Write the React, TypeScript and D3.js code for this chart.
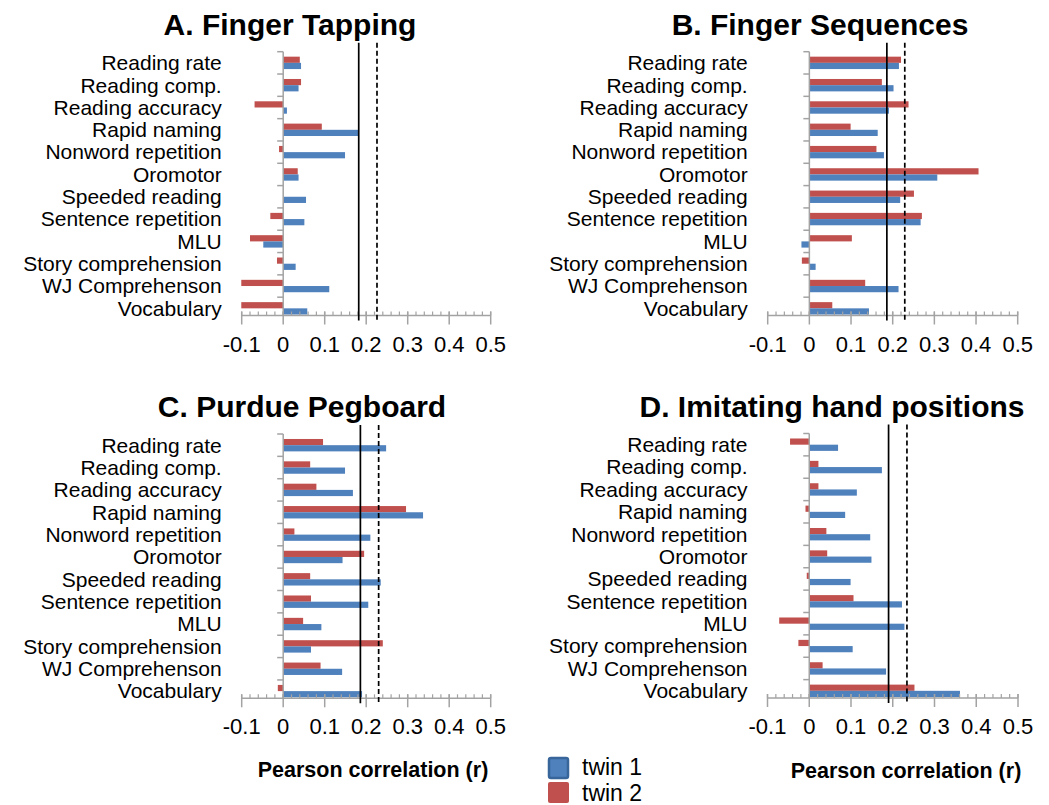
import { range, scaleBand, scaleLinear } from "d3"

const categories = [
    "Reading rate",
    "Reading comp.",
    "Reading accuracy",
    "Rapid naming",
    "Nonword repetition",
    "Oromotor",
    "Speeded reading",
    "Sentence repetition",
    "MLU",
    "Story comprehension",
    "WJ Comprehenson",
    "Vocabulary",
]

const tickValues = [-0.1, 0, 0.1, 0.2, 0.3, 0.4, 0.5]
const tickLabels = ["-0.1", "0", "0.1", "0.2", "0.3", "0.4", "0.5"]

const titles = ["A. Finger Tapping", "B. Finger Sequences", "C. Purdue Pegboard", "D. Imitating hand positions"]

// correlations, one value per category
const tappingTwin1 = [0.043, 0.037, 0.009, 0.182, 0.149, 0.037, 0.055, 0.051, -0.048, 0.030, 0.111, 0.058]
const tappingTwin2 = [0.040, 0.043, -0.069, 0.093, -0.010, 0.035, 0, -0.031, -0.080, -0.015, -0.101, -0.101]

const sequencesTwin1 = [0.215, 0.202, 0.191, 0.164, 0.179, 0.307, 0.218, 0.267, -0.019, 0.015, 0.214, 0.143]
const sequencesTwin2 = [0.220, 0.174, 0.238, 0.099, 0.161, 0.406, 0.251, 0.270, 0.102, -0.018, 0.134, 0.055]

const pegboardTwin1 = [0.248, 0.149, 0.168, 0.337, 0.210, 0.143, 0.235, 0.205, 0.092, 0.067, 0.142, 0.190]
const pegboardTwin2 = [0.096, 0.065, 0.080, 0.296, 0.027, 0.195, 0.065, 0.067, 0.048, 0.240, 0.090, -0.013]

const handsTwin1 = [0.069, 0.174, 0.114, 0.086, 0.146, 0.149, 0.099, 0.222, 0.228, 0.104, 0.184, 0.361]
const handsTwin2 = [-0.046, 0.022, 0.022, -0.009, 0.041, 0.043, -0.006, 0.106, -0.072, -0.026, 0.032, 0.252]

// significance thresholds (solid / dashed)
const solidLines = [0.182, 0.186, 0.186, 0.19]
const dashedLines = [0.226, 0.229, 0.23, 0.234]

const legendLabels = ["twin 1", "twin 2"]

const BLUE = "#4f81bd"
const RED = "#c0504d"
const AXIS = "#a3a3a3"
const FONT = "'Liberation Sans', Arial, sans-serif"

const layout = [
    { x0: 241.7, x1: 490.7, top: 51.7, axisY: 315.5, titleX: 290, titleY: 35 },
    { x0: 767.7, x1: 1017.7, top: 51.7, axisY: 315.5, titleX: 820, titleY: 35 },
    { x0: 241.7, x1: 490.7, top: 434, axisY: 698.3, titleX: 302, titleY: 417 },
    { x0: 767.5, x1: 1018, top: 433.5, axisY: 698, titleX: 832, titleY: 417 },
]

const panelData = [
    [tappingTwin1, tappingTwin2],
    [sequencesTwin1, sequencesTwin2],
    [pegboardTwin1, pegboardTwin2],
    [handsTwin1, handsTwin2],
]

const Panel = ({ idx }) => {
    const l = layout[idx]
    const [twin1, twin2] = panelData[idx]

    const x = scaleLinear().domain([-0.1, 0.5]).range([l.x0, l.x1])
    const y = scaleBand().domain(categories).range([l.top, l.axisY + 4])
    const barH = 6.2
    const minor = range(0, 31).map(i => -0.1 + i * 0.02)

    const bar = (v, c, yy, color) => (
        <rect key={c + color} x={Math.min(x(0), x(v))} y={yy}
            width={Math.abs(x(v) - x(0))} height={barH} fill={color} />
    )

    return (
        <g>
            <text x={l.titleX} y={l.titleY} textAnchor="middle" fontSize={30} fontWeight="bold">{titles[idx]}</text>

            {categories.map(c => (
                <text key={c} x={l.x0 - 20} y={y(c) + y.bandwidth() / 2} dy="0.35em"
                    textAnchor="end" fontSize={21}>{c}</text>
            ))}

            {categories.map((c, i) => {
                const mid = y(c) + y.bandwidth() / 2
                return (
                    <g key={c}>
                        {twin2[i] !== 0 && bar(twin2[i], c, mid - barH, RED)}
                        {bar(twin1[i], c, mid, BLUE)}
                    </g>
                )
            })}

            {/* category axis */}
            <line x1={x(0)} x2={x(0)} y1={l.top} y2={l.axisY} stroke={AXIS} strokeWidth={1.5} />
            {categories.map(c => (
                <line key={c} x1={x(0) - 6} x2={x(0)} y1={y(c)} y2={y(c)} stroke={AXIS} strokeWidth={1.5} />
            ))}

            {/* value axis */}
            <line x1={l.x0} x2={l.x1} y1={l.axisY} y2={l.axisY} stroke={AXIS} strokeWidth={1.5} />
            {minor.map((v, i) => (
                <line key={i} x1={x(v)} x2={x(v)} y1={l.axisY - 4} y2={l.axisY} stroke={AXIS} strokeWidth={1.2} />
            ))}
            {tickValues.map(v => (
                <line key={v} x1={x(v)} x2={x(v)} y1={l.axisY - 4} y2={l.axisY + 9} stroke={AXIS} strokeWidth={1.5} />
            ))}
            {tickValues.map((v, i) => (
                <text key={v} x={x(v)} y={l.axisY + 36} textAnchor="middle" fontSize={22}>{tickLabels[i]}</text>
            ))}

            <line x1={x(solidLines[idx])} x2={x(solidLines[idx])} y1={l.top - 9} y2={l.axisY + 5}
                stroke="#000" strokeWidth={1.7} />
            <line x1={x(dashedLines[idx])} x2={x(dashedLines[idx])} y1={l.top - 9} y2={l.axisY + 5}
                stroke="#000" strokeWidth={1.7} strokeDasharray="5,3" />
        </g>
    )
}

const App = () => {
    return (
        <svg width={1049} height={805} style={{ position: "absolute", left: 0, top: 0, fontFamily: FONT }}>
            <rect width={1049} height={805} fill="#fff" />
            {layout.map((_, i) => <Panel key={i} idx={i} />)}

            <text x={373} y={777} textAnchor="middle" fontSize={21.5} fontWeight="bold">Pearson correlation (r)</text>
            <text x={906} y={778} textAnchor="middle" fontSize={21.5} fontWeight="bold">Pearson correlation (r)</text>

            <rect x={549} y={758} width={19} height={20} rx={2} fill={BLUE} stroke="#38659a" strokeWidth={2.5} />
            <rect x={548} y={782} width={21} height={21} rx={2} fill={RED} />
            <text x={582} y={775} fontSize={23}>{legendLabels[0]}</text>
            <text x={582} y={801} fontSize={23}>{legendLabels[1]}</text>
        </svg>
    )
}

export default App
